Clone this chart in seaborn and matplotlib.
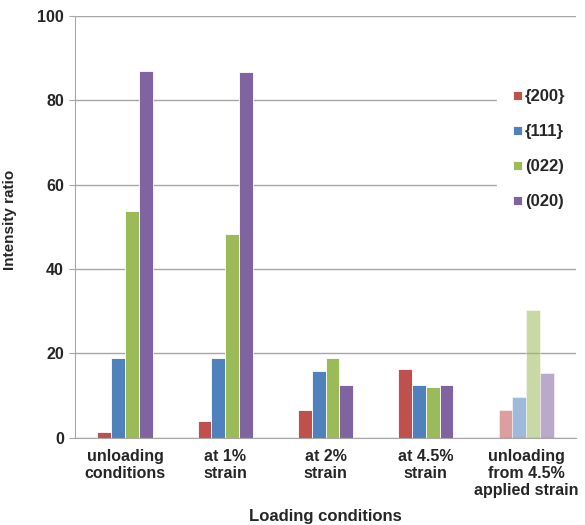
import pandas as pd
import matplotlib.pyplot as plt
import seaborn as sns

# values
conditions = ["unloading\nconditions", "at 1%\nstrain", "at 2%\nstrain",
              "at 4.5%\nstrain", "unloading\nfrom 4.5%\napplied strain"]
planes = ["{200}", "{111}", "(022)", "(020)"]
r200 = [1.5, 4.0, 6.5, 16.4, 6.5]
r111 = [19.0, 19.0, 15.9, 12.6, 9.6]
r022 = [53.8, 48.3, 19.0, 12.0, 30.3]
r020 = [87.0, 86.6, 12.6, 12.6, 15.3]
colors = ["#C0504D", "#4F81BD", "#9BBB59", "#8064A2"]

rows = []
for plane, vals in zip(planes, [r200, r111, r022, r020]):
    for c, v in zip(conditions, vals):
        rows.append({"cond": c, "plane": plane, "ratio": v})
df = pd.DataFrame(rows)

sns.set_style("white")
plt.rcParams["font.family"] = ["Liberation Sans", "DejaVu Sans"]
plt.rcParams["font.weight"] = "bold"

fig = plt.figure(figsize=(5.85, 5.25), dpi=100)
ax = fig.add_axes([0.128, 0.166, 0.857, 0.804])
sns.barplot(data=df, x="cond", y="ratio", hue="plane", palette=colors,
            saturation=1, width=0.55, edgecolor="white", linewidth=0.6, ax=ax)

# last group is drawn faded
for cont in ax.containers:
    cont[4].set_alpha(0.55)

ax.set_ylim(0, 100)
ax.set_xlim(-0.5, 4.5)
ax.set_yticks(range(0, 101, 20))
ax.yaxis.grid(True, color="#A6A6A6", linewidth=1)
ax.set_axisbelow(True)
for s in ["top", "right"]:
    ax.spines[s].set_visible(False)
for s in ["left", "bottom"]:
    ax.spines[s].set_color("#A6A6A6")

ax.set_xticks([0, 1, 2, 3, 4])
ax.set_xticklabels(conditions, fontsize=11.5, fontweight="bold", linespacing=1.15)
ax.tick_params(axis="x", length=0, pad=8)
ax.set_xticks([0.5, 1.5, 2.5, 3.5, 4.5], minor=True)
ax.tick_params(axis="x", which="minor", length=4, color="#A6A6A6")
ax.tick_params(axis="y", length=4, color="#A6A6A6", labelsize=11.5, pad=4, direction="out", left=True)
for t in ax.get_yticklabels():
    t.set_fontweight("bold")

ax.set_xlabel("Loading conditions", fontsize=12, fontweight="bold", labelpad=8)
ax.set_ylabel("Intensity ratio", fontsize=11, fontweight="bold")
ax.yaxis.set_label_coords(-0.116, 0.517)

leg = ax.legend(loc="upper left", bbox_to_anchor=(0.825, 0.885), frameon=True,
                fancybox=False, edgecolor="white", framealpha=1,
                handlelength=0.5, handleheight=0.5, handletextpad=0.2,
                labelspacing=1.2, borderpad=1.0, prop={"size": 12, "weight": "bold"})

fig.savefig("out.png", dpi=100)
